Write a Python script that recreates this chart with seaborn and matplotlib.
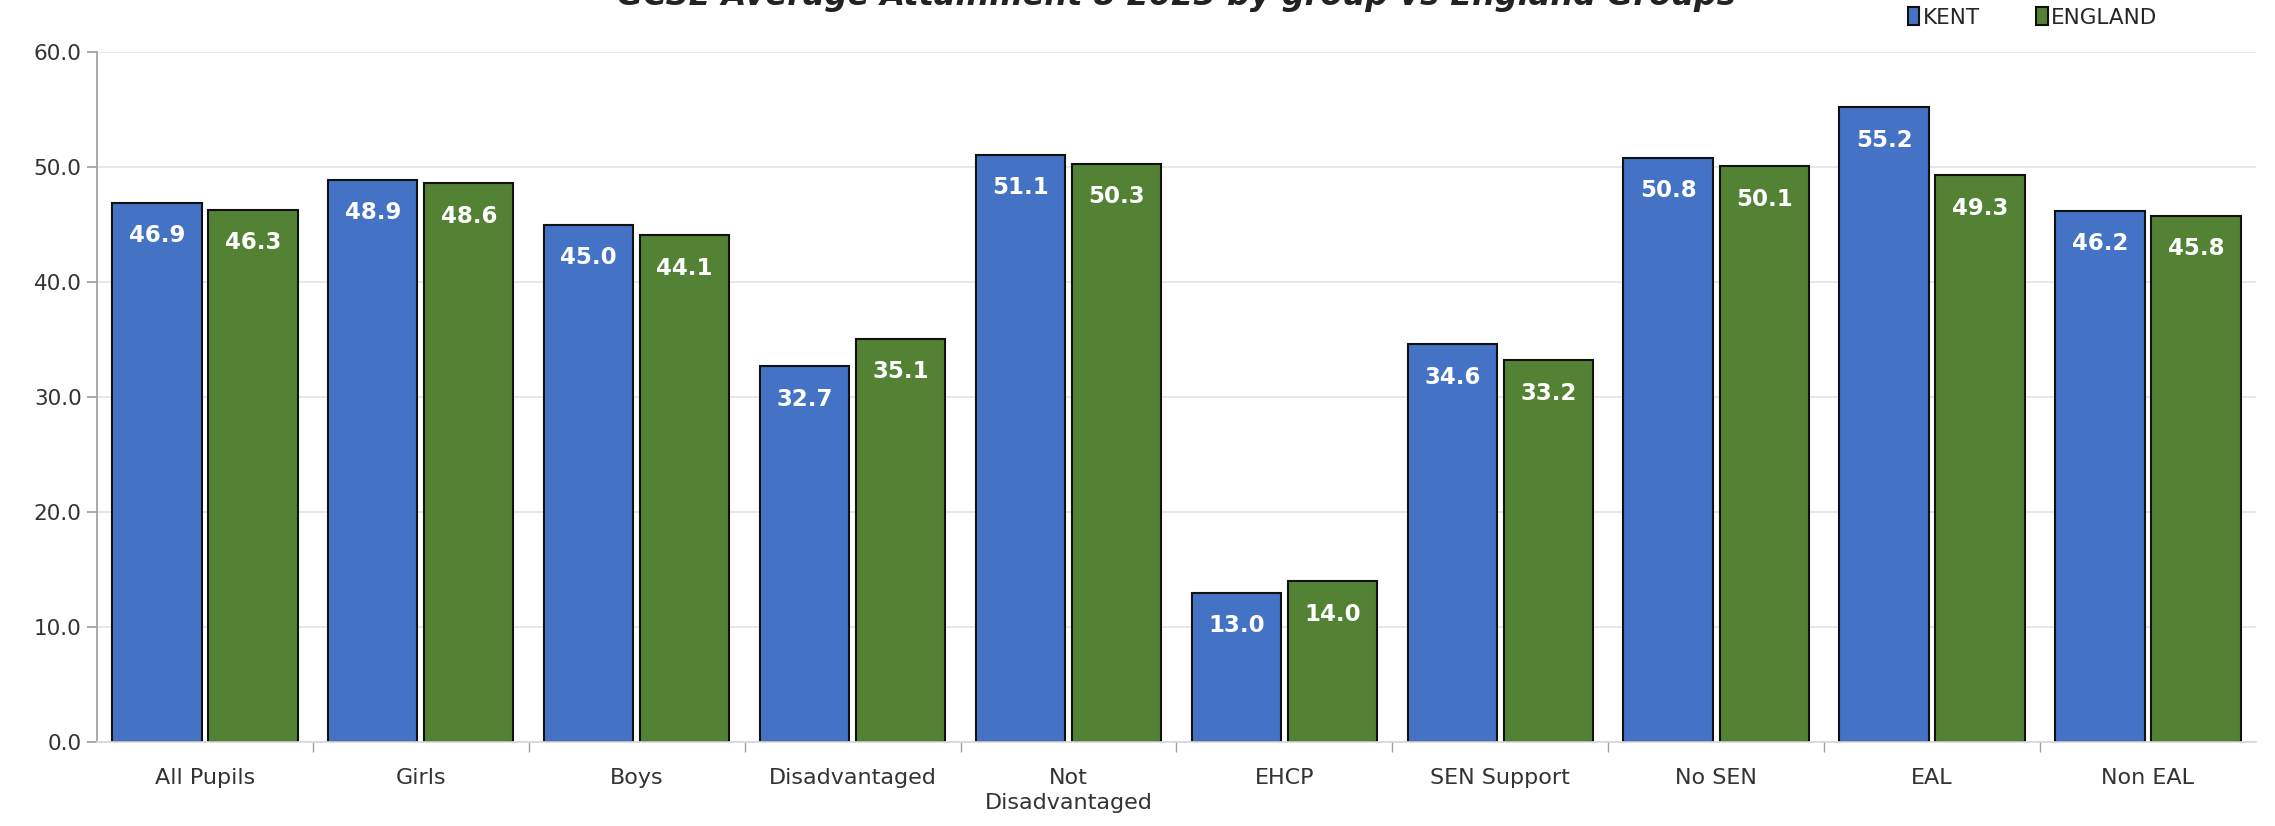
import matplotlib
matplotlib.use("Agg")
import matplotlib.pyplot as plt
import seaborn as sns
import pandas as pd
from matplotlib.ticker import FormatStrFormatter, FixedLocator

categories = ["All Pupils", "Girls", "Boys", "Disadvantaged", "Not\nDisadvantaged",
              "EHCP", "SEN Support", "No SEN", "EAL", "Non EAL"]
kent = [46.9, 48.9, 45.0, 32.7, 51.1, 13.0, 34.6, 50.8, 55.2, 46.2]
england = [46.3, 48.6, 44.1, 35.1, 50.3, 14.0, 33.2, 50.1, 49.3, 45.8]
series = ["KENT", "ENGLAND"]
colors = ["#4472C4", "#548235"]
title = "GCSE Average Attainment 8 2023 by group vs England Groups"

df = pd.DataFrame({
    "group": categories * 2,
    "value": kent + england,
    "series": [series[0]] * len(categories) + [series[1]] * len(categories),
})

sns.set_theme(style="white")
plt.rcParams["font.family"] = ["DejaVu Sans"]

fig = plt.figure(figsize=(22.75, 8.26), dpi=100)
ax = fig.add_axes([0.0426, 0.1017, 0.949, 0.835])

sns.barplot(data=df, x="group", y="value", hue="series", order=categories,
            hue_order=series, palette=colors, width=0.89, gap=0.07,
            edgecolor="#111111", linewidth=1.5, saturation=1, ax=ax, legend=True)

for cont in ax.containers:
    ax.bar_label(cont, fmt="%.1f", label_type="edge", padding=-32,
                 color="white", fontsize=16.5, fontweight="bold")

ax.set_ylim(0, 60)
ax.set_xlim(-0.5, len(categories) - 0.5)
ax.yaxis.set_major_formatter(FormatStrFormatter("%.1f"))
ax.set_yticks(range(0, 61, 10))
ax.grid(axis="y", color="#e3e3e3", linewidth=1.2)
ax.set_axisbelow(True)
ax.set_xlabel("")
ax.set_ylabel("")
for s in ["top", "right"]:
    ax.spines[s].set_visible(False)
ax.spines["left"].set_color("#a0a0a0")
ax.spines["bottom"].set_color("#d8d8d8")
ax.tick_params(axis="y", left=True, length=7, color="#a0a0a0", labelsize=15.5,
               labelcolor="#333333", pad=4)
ax.tick_params(axis="x", bottom=False, labelsize=16, labelcolor="#333333", pad=13)
for lbl in ax.get_xticklabels():
    lbl.set_linespacing(1.3)
ax.xaxis.set_minor_locator(FixedLocator([i + 0.5 for i in range(len(categories) - 1)]))
ax.tick_params(axis="x", which="minor", bottom=True, length=7, color="#a0a0a0")

handles, labels = ax.get_legend_handles_labels()
ax.legend(handles, labels, loc="center left", bbox_to_anchor=(0.830, 0.979),
          bbox_transform=fig.transFigure, ncol=2, frameon=False, fontsize=15.5,
          handlelength=0.55, handleheight=0.9, handletextpad=0.15, columnspacing=2.6)

fig.text(0.517, 1 - 5 / 826, title, ha="center", va="baseline", fontsize=23,
         fontweight="bold", fontstyle="italic", color="#222222")

fig.savefig("out.png", dpi=100, facecolor="white")
